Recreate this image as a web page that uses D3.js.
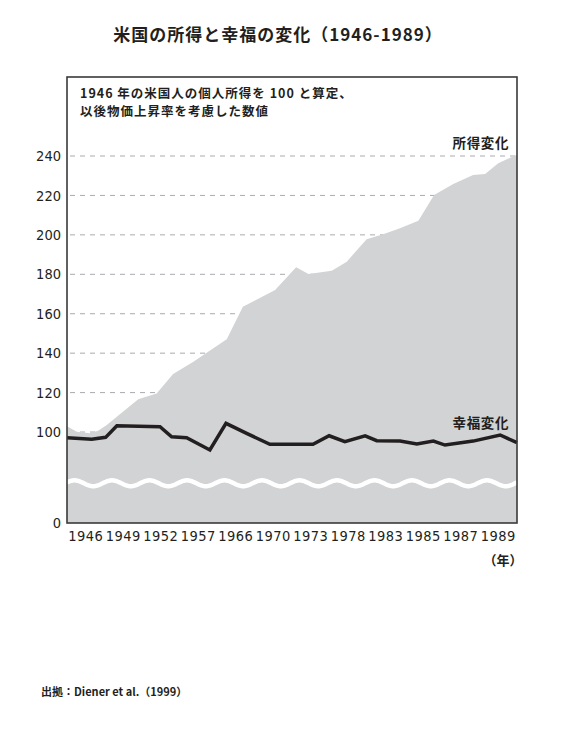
<!DOCTYPE html>
<html>
<head>
<meta charset="utf-8">
<script src="https://cdn.jsdelivr.net/npm/d3@7"></script>
<style>
  html, body { margin: 0; padding: 0; background: #fff; }
  svg { display: block; }
  .cjk { font-family: "Noto Sans CJK JP", "Noto Sans", sans-serif; fill: #231f20; }
  .num { font-family: "Liberation Sans Narrow", "DejaVu Sans Condensed", sans-serif; fill: #231f20; }
</style>
</head>
<body>
<div id="chart"></div>
<script>
// x labels (the axis is categorical, one slot per label)
const years = ["1946", "1949", "1952", "1957", "1966", "1970", "1973", "1978", "1983", "1985", "1987", "1989"];
const yTicks = [0, 100, 120, 140, 160, 180, 200, 220, 240];
const gridTicks = [100, 120, 140, 160, 180, 200, 220, 240];

// income index (1946 = 100), position given in label slots
const incomePos = [0, 0.26, 0.61, 0.83, 1.06, 1.41, 1.90, 2.39, 2.83, 3.37, 4.26, 4.69, 5.55, 6.11, 6.44, 7.06, 7.46, 7.99, 8.43, 8.88, 9.37, 9.79, 10.30, 10.83, 11.15, 11.50, 11.92, 12];
const incomeValues = [102.9, 100.2, 99.4, 100.7, 103.6, 109, 116.6, 119.6, 129.4, 135.7, 147, 163.6, 172, 183.6, 180.2, 181.8, 186.4, 197.8, 200.3, 203.4, 207.2, 220.2, 225.8, 230.4, 230.9, 236.3, 240, 240.5];

// happiness index
const happyPos = [0, 0.66, 1.03, 1.33, 2.48, 2.79, 3.19, 3.81, 4.24, 4.79, 5.41, 6.56, 6.99, 7.41, 7.95, 8.26, 8.88, 9.33, 9.77, 10.08, 10.83, 11.55, 12];
const happyValues = [97.1, 96.4, 97.3, 103.2, 102.7, 97.6, 97.1, 90.9, 104.4, 99.3, 93.8, 93.8, 98.1, 95.1, 98.1, 95.6, 95.4, 93.9, 95.4, 93.4, 95.4, 98.5, 94.6];

const width = 570, height = 730;
const frame = { left: 67, right: 517, top: 77, bottom: 523 };
const breakValue = 74; // where the axis is cut

const svg = d3.select("#chart").append("svg")
  .attr("width", width)
  .attr("height", height);

// Scales: band for labels, linear slots for the data points
const xBand = d3.scaleBand().domain(years).range([frame.left, frame.right]);
const xSlot = d3.scaleLinear().domain([0, years.length]).range([frame.left, frame.right]);
// broken axis: 0..break squeezed, break..240 linear
const yScale = d3.scaleLinear().domain([0, breakValue, 240]).range([frame.bottom, 483.3, 156]);

// Title
svg.append("text")
  .attr("class", "cjk")
  .attr("x", 278).attr("y", 41)
  .attr("text-anchor", "middle")
  .style("font-size", "17px").style("font-weight", "bold")
  .style("letter-spacing", "1px")
  .text("米国の所得と幸福の変化（1946-1989）");

// dashed grid
svg.append("g")
  .selectAll("line")
  .data(gridTicks)
  .join("line")
  .attr("x1", frame.left + 3).attr("x2", frame.right)
  .attr("y1", d => yScale(d)).attr("y2", d => yScale(d))
  .style("stroke", "#a9abae").style("stroke-width", 1)
  .style("stroke-dasharray", "5,5");

// income area
const incomeData = incomePos.map((p, i) => ({ p, v: incomeValues[i] }));
const area = d3.area()
  .x(d => xSlot(d.p))
  .y0(yScale(0))
  .y1(d => yScale(d.v));
svg.append("path")
  .datum(incomeData)
  .attr("d", area)
  .style("fill", "#d1d3d4");

// axis-break wave
const wave = d3.range(0, 12.001, 0.05).map(t => [xSlot(t), yScale(breakValue) + 3 * Math.sin((t - 0.45) * 2 * Math.PI)]);
svg.append("path")
  .attr("d", d3.line().curve(d3.curveBasis)(wave))
  .style("fill", "none").style("stroke", "#fff").style("stroke-width", 4.5);

// happiness line
const happyData = happyPos.map((p, i) => ({ p, v: happyValues[i] }));
svg.append("path")
  .datum(happyData)
  .attr("d", d3.line().x(d => xSlot(d.p)).y(d => yScale(d.v)))
  .style("fill", "none").style("stroke", "#231f20")
  .style("stroke-width", 3.5).style("stroke-linejoin", "miter");

// frame
svg.append("rect")
  .attr("x", frame.left).attr("y", frame.top)
  .attr("width", frame.right - frame.left).attr("height", frame.bottom - frame.top)
  .style("fill", "none").style("stroke", "#3a3a3a").style("stroke-width", 1.6);

// y axis
const yAxis = d3.axisLeft(yScale).tickValues(yTicks).tickSize(0).tickPadding(6);
svg.append("g")
  .attr("transform", `translate(${frame.left},0)`)
  .call(yAxis)
  .call(g => g.select(".domain").remove())
  .selectAll("text")
  .attr("class", "num")
  .style("font-size", "14.5px")
  .attr("font-family", null);

// x axis
const xAxis = d3.axisBottom(xBand).tickSize(0).tickPadding(8);
svg.append("g")
  .attr("transform", `translate(0,${frame.bottom})`)
  .call(xAxis)
  .call(g => g.select(".domain").remove())
  .selectAll("text")
  .attr("class", "num")
  .style("font-size", "14.5px")
  .style("letter-spacing", "0.5px")
  .attr("font-family", null);

svg.append("text")
  .attr("class", "cjk")
  .attr("x", 503).attr("y", 565)
  .attr("text-anchor", "middle")
  .style("font-size", "13px").style("font-weight", "bold")
  .text("（年）");

// note inside the frame
const note = ["1946 年の米国人の個人所得を 100 と算定、", "以後物価上昇率を考慮した数値"];
svg.append("g")
  .selectAll("text")
  .data(note)
  .join("text")
  .attr("class", "cjk")
  .attr("x", 80)
  .attr("y", (d, i) => 98 + i * 18)
  .style("font-size", "12.5px").style("font-weight", "bold")
  .style("letter-spacing", "1px")
  .text(d => d);

// series labels
svg.append("text")
  .attr("class", "cjk")
  .attr("x", 509).attr("y", 148)
  .attr("text-anchor", "end")
  .style("font-size", "13.5px").style("font-weight", "bold")
  .style("letter-spacing", "0.6px")
  .text("所得変化");

svg.append("text")
  .attr("class", "cjk")
  .attr("x", 509).attr("y", 428)
  .attr("text-anchor", "end")
  .style("font-size", "13.5px").style("font-weight", "bold")
  .style("letter-spacing", "0.6px")
  .text("幸福変化");

// source
svg.append("text")
  .attr("class", "cjk")
  .attr("x", 41).attr("y", 696)
  .style("font-size", "11px").style("font-weight", "bold")
  .text("出拠：Diener et al.（1999）");
</script>
</body>
</html>
